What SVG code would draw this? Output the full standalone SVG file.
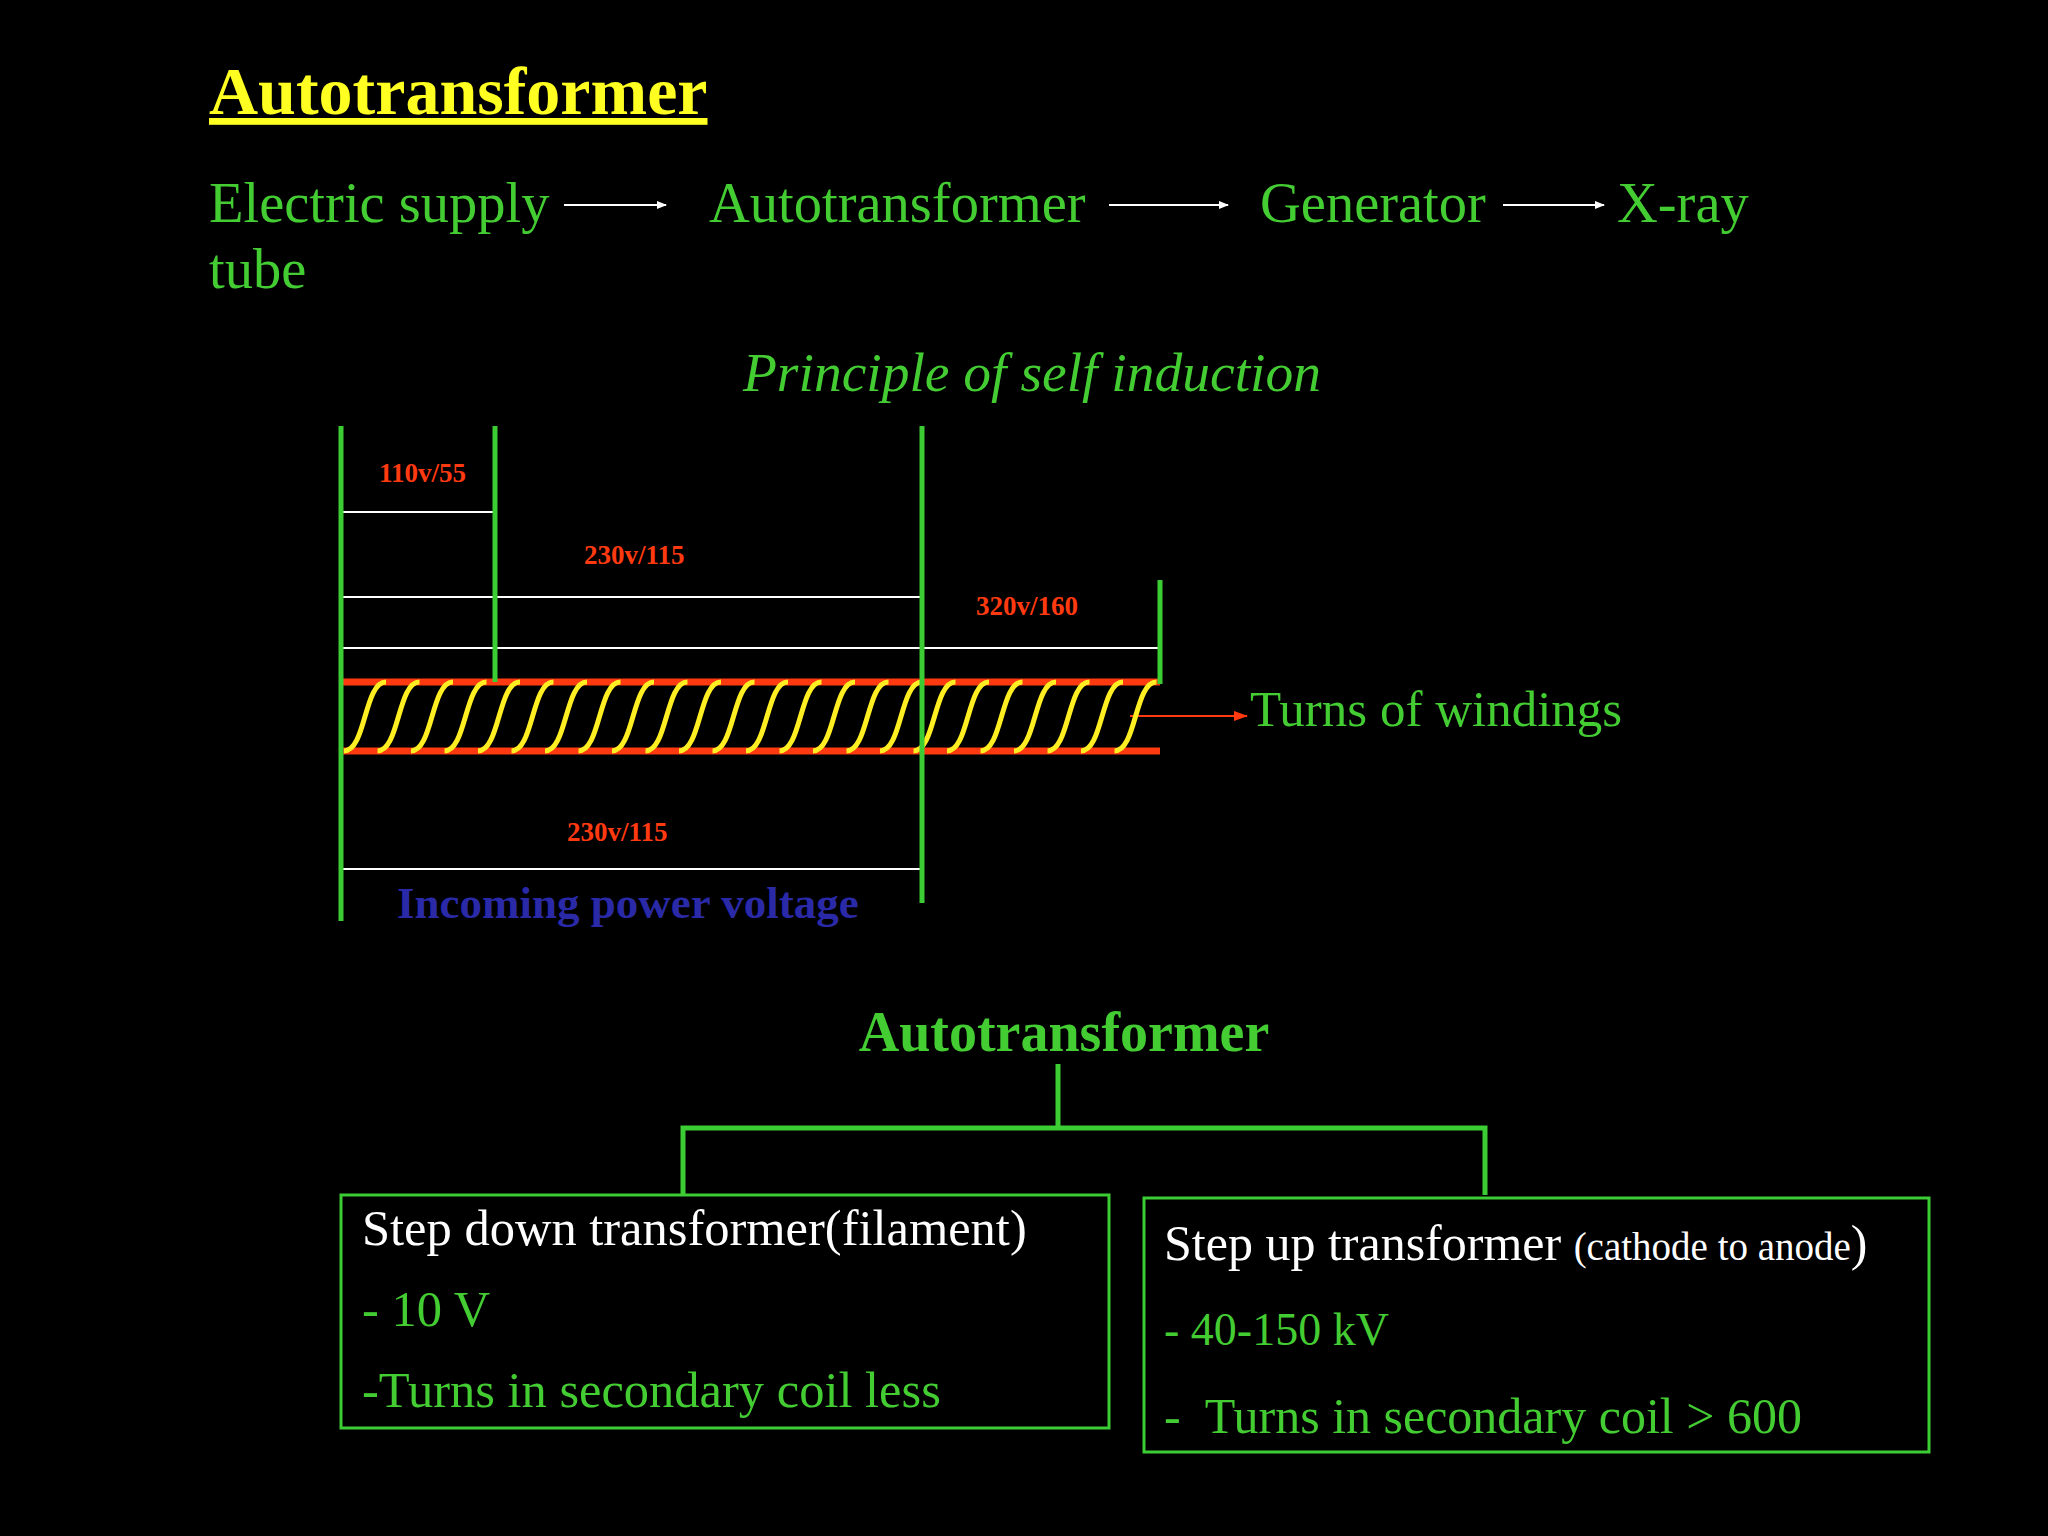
<svg xmlns="http://www.w3.org/2000/svg" xmlns:xlink="http://www.w3.org/1999/xlink" width="2048" height="1536" viewBox="0 0 2048 1536">
<style>
text{font-family:"Liberation Serif","Times New Roman",serif}
.g{fill:#44cc33}
.w{fill:#ffffff}
.r{fill:#ff3a10;font-weight:bold;font-size:27px}
.gl{stroke:#3ccc33;stroke-width:5;fill:none}
.wl{stroke:#ffffff;stroke-width:2}
.rb{stroke:#ff3a10;stroke-width:7}
.box{fill:none;stroke:#3ccc33;stroke-width:3}
.coil{fill:none;stroke:#ffee22;stroke-width:5}
</style>
<defs>
<marker id="aw" markerWidth="10" markerHeight="10" refX="9" refY="5" orient="auto" markerUnits="userSpaceOnUse"><path d="M0,1 L10,5 L0,9Z" fill="#fff"/></marker>
<marker id="ar" markerWidth="14" markerHeight="12" refX="13" refY="6" orient="auto" markerUnits="userSpaceOnUse"><path d="M0,1 L14,6 L0,11Z" fill="#ff3a10"/></marker>
<path id="t" class="coil" d="M0,0 C22,0 20,-69 42,-69"/>
</defs>
<rect width="2048" height="1536" fill="#000"/>
<text x="209" y="114" font-size="68" font-weight="bold" fill="#ffff22" text-decoration="underline">Autotransformer</text>
<g id="flow">
<text class="g" x="209" y="222" font-size="56.5">Electric supply</text>
<text class="g" x="709" y="222" font-size="56.5">Autotransformer</text>
<text class="g" x="1260" y="222" font-size="56.5">Generator</text>
<text class="g" x="1617" y="222" font-size="56.5">X-ray</text>
<text class="g" x="209" y="288" font-size="56.5">tube</text>
</g>
<g id="connectors">
<line x1="564" y1="205" x2="666" y2="205" stroke="#fff" stroke-width="2" marker-end="url(#aw)"/>
<line x1="1109" y1="205" x2="1228" y2="205" stroke="#fff" stroke-width="2" marker-end="url(#aw)"/>
<line x1="1503" y1="205" x2="1604" y2="205" stroke="#fff" stroke-width="2" marker-end="url(#aw)"/>
<line x1="1130" y1="716" x2="1247" y2="716" stroke="#ff3a10" stroke-width="2" marker-end="url(#ar)"/>
<path class="gl" d="M1058,1064 V1128 M683,1195 V1128 H1485 V1195"/>
</g>
<text class="g" x="1032" y="391" font-size="55.5" font-style="italic" text-anchor="middle">Principle of self induction</text>
<g id="coil">
<line class="wl" x1="341" y1="512" x2="495" y2="512"/>
<line class="wl" x1="341" y1="597" x2="922" y2="597"/>
<line class="wl" x1="341" y1="648" x2="1160" y2="648"/>
<line class="wl" x1="341" y1="869" x2="922" y2="869"/>
<line class="rb" x1="341" y1="682" x2="1160" y2="682"/>
<line class="rb" x1="341" y1="751" x2="1160" y2="751"/>
<g transform="translate(344,751)">
<use href="#t" x="0"/><use href="#t" x="33.5"/><use href="#t" x="67"/><use href="#t" x="100.5"/><use href="#t" x="134"/><use href="#t" x="167.5"/><use href="#t" x="201"/><use href="#t" x="234.5"/><use href="#t" x="268"/><use href="#t" x="301.5"/><use href="#t" x="335"/><use href="#t" x="368.5"/><use href="#t" x="402"/><use href="#t" x="435.5"/><use href="#t" x="469"/><use href="#t" x="502.5"/><use href="#t" x="536"/><use href="#t" x="569.5"/><use href="#t" x="603"/><use href="#t" x="636.5"/><use href="#t" x="670"/><use href="#t" x="703.5"/><use href="#t" x="737"/><use href="#t" x="770.5"/>
</g>
<line class="gl" x1="341" y1="426" x2="341" y2="921"/>
<line class="gl" x1="495" y1="426" x2="495" y2="682"/>
<line class="gl" x1="922" y1="426" x2="922" y2="903"/>
<line class="gl" x1="1160" y1="580" x2="1160" y2="684"/>
<text class="r" x="379" y="482">110v/55</text>
<text class="r" x="584" y="564">230v/115</text>
<text class="r" x="976" y="615">320v/160</text>
<text class="r" x="567" y="841">230v/115</text>
<text x="397" y="918" font-size="45" font-weight="bold" fill="#2a2aa8">Incoming power voltage</text>
<text class="g" x="1250" y="726" font-size="51">Turns of windings</text>
</g>
<g id="root"><text class="g" x="1064" y="1051" font-size="56" font-weight="bold" text-anchor="middle">Autotransformer</text></g>
<g id="left">
<rect class="box" x="341" y="1195" width="768" height="233"/>
<text class="w" x="362" y="1245" font-size="50.5">Step down transformer(filament)</text>
<text class="g" x="362" y="1326" font-size="50.5">- 10 V</text>
<text class="g" x="362" y="1407" font-size="50.5">-Turns in secondary coil less</text>
</g>
<g id="right">
<rect class="box" x="1144" y="1198" width="785" height="254"/>
<text class="w" x="1164" y="1260" font-size="50">Step up transformer <tspan font-size="39">(cathode to anode</tspan>)</text>
<text class="g" x="1164" y="1345" font-size="46">- 40-150 kV</text>
<text class="g" x="1164" y="1433" font-size="50" xml:space="preserve">-  Turns in secondary coil &gt; 600</text>
</g>
</svg>
